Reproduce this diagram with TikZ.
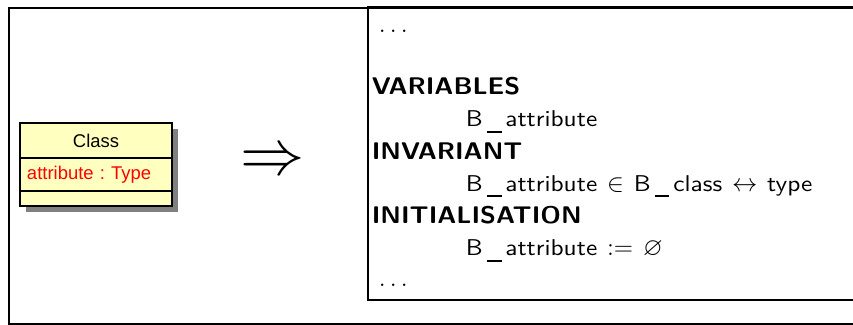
\documentclass[tikz,border=0pt]{standalone}
\usepackage{amssymb}
\usepackage{fontspec}
\newfontfamily\umlfont{Liberation Sans}
\newfontfamily\machfont{lmsans10-regular.otf}[FakeStretch=1.11,BoldFont=lmsans10-bold.otf,BoldFeatures={FakeStretch=1.08}]
\DeclareMathSizes{13}{14.4}{10}{7}
\usepackage{tikz}
\usetikzlibrary{calc,positioning,backgrounds}
\pgfdeclarelayer{back}
\pgfsetlayers{background,back,main}

\definecolor{umlyellow}{RGB}{255,255,192}
\definecolor{umlshadow}{RGB}{128,128,128}

% B identifiers are written with a low, spaced underscore
\newcommand{\uscore}{\kern0.17em\rule[-0.26em]{0.65em}{0.1em}\kern0.17em}
\newcommand{\stmtfont}{\machfont\fontsize{13}{16}\selectfont\spaceskip=0.43em\relax}

\tikzset{
  compart/.style={rectangle,draw=black,line width=1.1pt,fill=umlyellow,minimum width=3.04cm,inner sep=0pt,outer sep=0pt,font=\umlfont\fontsize{10.5}{12}\selectfont\frenchspacing},
  clause/.style={draw=none,inner sep=0pt,anchor=base west,font=\machfont\fontsize{13.7}{16}\selectfont\bfseries},
  stmt/.style={draw=none,inner sep=0pt,anchor=base west,font=\stmtfont},
}

\begin{document}
\begin{tikzpicture}

  \useasboundingbox (0,0) rectangle (17.06,6.5);

  % frames
  \draw[line width=1pt] (0.18,0.026) rectangle (17.6,6.346);
  \draw[line width=1.5pt,fill=white] (7.36,0.5) rectangle (17.6,6.356);

  % uml class
  \node (cls_head) [compart,minimum height=0.7cm,anchor=north west] at (0.40,4.04) {Class};
  \node (cls_attr) [compart,minimum height=0.66cm,inner xsep=0.14cm,text width=2.76cm,align=left,text=red,below=0pt of cls_head] {attribute : Type};
  \node (cls_ops) [compart,minimum height=0.3cm,below=0pt of cls_attr] {};

  \begin{pgfonlayer}{back}
    \fill[umlshadow] ($(cls_head.north west)+(0.12,-0.12)$) rectangle ($(cls_ops.south east)+(0.12,-0.12)$);
  \end{pgfonlayer}

  \node (implies) [draw=none,font=\fontsize{24.88}{26}\selectfont,scale=1.47,transform shape] at (5.46,3.24) {$\Rightarrow$};

  % machine clauses
  \node (dots_top) [stmt] at (7.57,5.84) {$\ldots$};
  \coordinate (kw_start) at (7.43,4.6);

  \foreach \kw/\body [count=\i from 0] in {VARIABLES/{B\uscore attribute},
      INVARIANT/{B\uscore attribute $\in$ B\uscore class $\leftrightarrow$ type},
      INITIALISATION/{B\uscore attribute $:=$ $\varnothing$}}
   {
     \node (kw_\i) [clause] at ($(kw_start)+(0,-1.29*\i)$) {\kw};
     \node (body_\i) [stmt] at ($(kw_\i.base west)+(1.88,-0.64)$) {\body};
   }

  \node (dots_bot) [stmt] at (7.57,0.76) {$\ldots$};

\end{tikzpicture}
\end{document}
